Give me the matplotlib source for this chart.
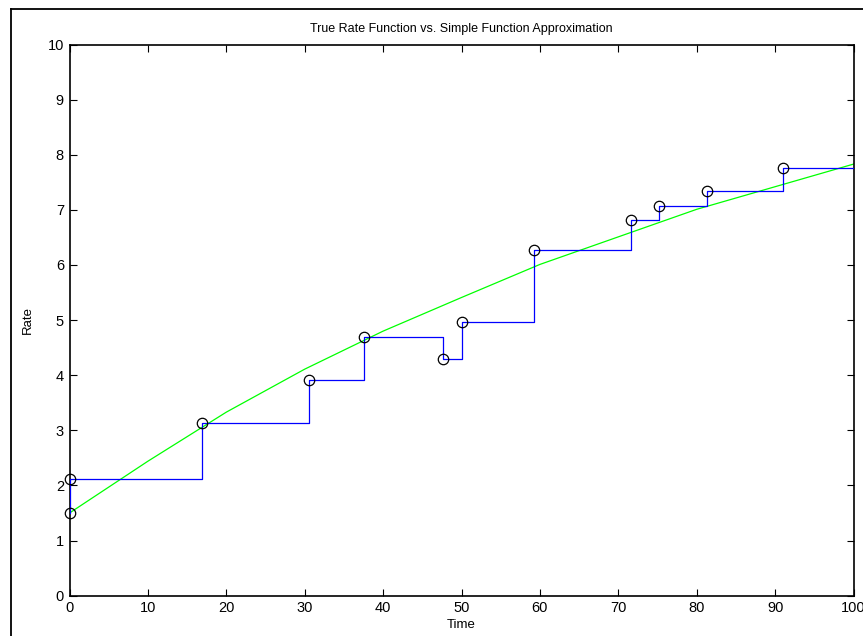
import matplotlib
matplotlib.use("Agg")
import matplotlib.pyplot as plt
from matplotlib.lines import Line2D

plt.rcParams['font.family'] = ['Liberation Sans', 'DejaVu Sans']

# Simple-function approximation (jump points)
jump_times = [0, 0, 16.9, 30.5, 37.5, 47.6, 50.1, 59.2, 71.6, 75.2, 81.3, 91.0]
jump_rates = [1.50, 2.12, 3.13, 3.92, 4.69, 4.29, 4.97, 6.27, 6.81, 7.07, 7.34, 7.76]
t_end = 100

# True rate function
true_t = [0, 10, 20, 30, 40, 50, 60, 70, 80, 90, 100]
true_rate = [1.50, 2.44, 3.33, 4.11, 4.80, 5.41, 6.01, 6.51, 7.01, 7.42, 7.83]

x_ticks = [0, 10, 20, 30, 40, 50, 60, 70, 80, 90, 100]
y_ticks = [0, 1, 2, 3, 4, 5, 6, 7, 8, 9, 10]

fig = plt.figure(figsize=(8.63, 6.36), dpi=100)
W, H = 863, 636
ax = fig.add_axes([69.5 / W, (H - 595.7) / H, 784 / W, 551.2 / H])

# Outer frame (window border, partially cropped)
fig.add_artist(Line2D([10.5 / W, 10.5 / W], [0, 1 - 9 / H], color='black', lw=1.3, transform=fig.transFigure))
fig.add_artist(Line2D([10.5 / W, 1], [1 - 9 / H, 1 - 9 / H], color='black', lw=1.3, transform=fig.transFigure))

ax.plot(true_t, true_rate, color=(0, 1, 0), lw=0.9, zorder=2)
step_x = jump_times + [t_end]
step_y = jump_rates + [jump_rates[-1]]
ax.step(step_x, step_y, where='post', color=(0, 0, 1), lw=0.9, zorder=3)
ax.plot(jump_times, jump_rates, linestyle='none', marker='o', markersize=7.5,
        markerfacecolor='none', markeredgecolor='black', markeredgewidth=0.9, zorder=4,
        clip_on=False)

ax.set_xlim(0, 100)
ax.set_ylim(0, 10)
ax.set_xticks(x_ticks)
ax.set_yticks(y_ticks)
ax.tick_params(direction='in', length=5, width=0.8, top=True, right=True,
               labelsize=10.5, pad=4)
for s in ax.spines.values():
    s.set_linewidth(1.2)

ax.set_title('True Rate Function vs. Simple Function Approximation', fontsize=9, pad=9)
ax.set_xlabel('Time', fontsize=9.5, labelpad=3)
ax.set_ylabel('Rate', fontsize=9.5, labelpad=10)

fig.savefig('out.png', dpi=100)
